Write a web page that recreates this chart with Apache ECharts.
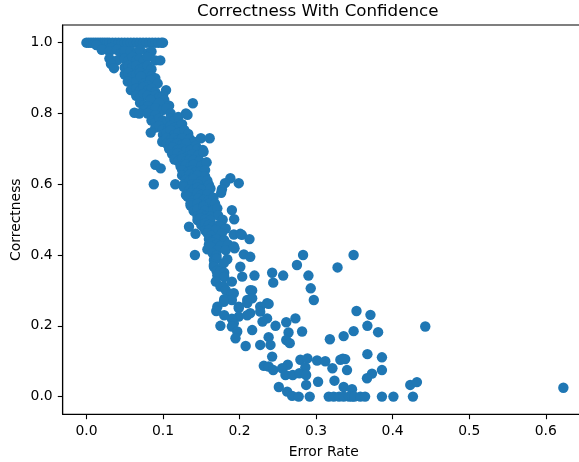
<!DOCTYPE html>
<html>
<head>
<meta charset="utf-8">
<script src="https://cdn.jsdelivr.net/npm/echarts@6/dist/echarts.min.js"></script>
<style>
  html, body { margin: 0; padding: 0; background: #fff; }
  #chart { width: 579px; height: 462px; }
</style>
</head>
<body>
<div id="chart"></div>
<script>
// Each point is [error rate, correctness].
const topRow = [
  [0, 1], [0.003, 1], [0.006, 1], [0.009, 1], [0.012, 1], [0.015, 1], [0.018, 1], [0.021, 1],
  [0.024, 1], [0.027, 1], [0.03, 1], [0.034, 1], [0.038, 1], [0.042, 1], [0.046, 1], [0.05, 1],
  [0.054, 1], [0.058, 1], [0.062, 1], [0.066, 1], [0.07, 1], [0.074, 1], [0.078, 1], [0.082, 1],
  [0.086, 1], [0.09, 1], [0.094, 1], [0.098, 1], [0.1, 1]
];

const upperBand = [
  [0.013, 0.993], [0.032, 0.985], [0.02, 0.98], [0.03, 0.975], [0.04, 0.98], [0.045, 0.97],
  [0.05, 0.975], [0.058, 0.975], [0.065, 0.97], [0.07, 0.98], [0.08, 0.97], [0.085, 0.975],
  [0.03, 0.955], [0.04, 0.95], [0.05, 0.955], [0.055, 0.95], [0.06, 0.96], [0.065, 0.95],
  [0.07, 0.955], [0.075, 0.95], [0.08, 0.96], [0.09, 0.95], [0.0965, 0.95],
  [0.032, 0.94], [0.036, 0.928], [0.05, 0.93], [0.055, 0.935], [0.06, 0.93], [0.065, 0.935],
  [0.07, 0.925], [0.075, 0.93], [0.08, 0.935], [0.085, 0.925],
  [0.05, 0.91], [0.055, 0.915], [0.06, 0.905], [0.065, 0.91], [0.07, 0.915], [0.075, 0.905],
  [0.08, 0.91], [0.085, 0.905], [0.09, 0.9],
  [0.054, 0.89], [0.06, 0.885], [0.065, 0.89], [0.071, 0.904], [0.075, 0.885], [0.084, 0.895],
  [0.08, 0.88], [0.093, 0.885],
  [0.058, 0.866], [0.065, 0.87], [0.07, 0.865], [0.075, 0.875], [0.08, 0.865], [0.085, 0.87],
  [0.09, 0.86], [0.104, 0.866],
  [0.065, 0.85], [0.07, 0.845], [0.075, 0.855], [0.08, 0.85], [0.085, 0.84], [0.09, 0.85],
  [0.095, 0.845], [0.1, 0.85],
  [0.07, 0.83], [0.0756, 0.824], [0.084, 0.838], [0.093, 0.824], [0.1017, 0.838], [0.139, 0.829],
  [0.095, 0.83], [0.08, 0.82], [0.108, 0.822],
  [0.075, 0.81], [0.085, 0.81], [0.09, 0.815], [0.1, 0.81], [0.105, 0.815], [0.0626, 0.802],
  [0.069, 0.8], [0.13, 0.8], [0.08, 0.8], [0.09, 0.795], [0.11, 0.8], [0.132, 0.796],
  [0.085, 0.78], [0.09, 0.775], [0.095, 0.785], [0.1, 0.78], [0.105, 0.775], [0.11, 0.785],
  [0.115, 0.78], [0.12, 0.79],
  [0.09, 0.76], [0.095, 0.765], [0.1, 0.755], [0.106, 0.753], [0.11, 0.765], [0.115, 0.76],
  [0.12, 0.755], [0.127, 0.753], [0.125, 0.77],
  [0.084, 0.746], [0.1, 0.74], [0.105, 0.745], [0.11, 0.753], [0.115, 0.74], [0.12, 0.745],
  [0.128, 0.753], [0.133, 0.742],
  [0.1017, 0.725], [0.099, 0.72], [0.105, 0.73], [0.11, 0.725], [0.115, 0.73], [0.12, 0.725],
  [0.125, 0.73], [0.135, 0.728], [0.14, 0.72], [0.1495, 0.73], [0.161, 0.73]
];

const middleBand = [
  [0.105, 0.715], [0.11, 0.716], [0.115, 0.71], [0.119, 0.716], [0.125, 0.712], [0.13, 0.715],
  [0.143, 0.708],
  [0.108, 0.7], [0.113, 0.705], [0.119, 0.697], [0.125, 0.7], [0.13, 0.695], [0.136, 0.697],
  [0.145, 0.7], [0.152, 0.697],
  [0.112, 0.685], [0.119, 0.688], [0.125, 0.68], [0.132, 0.678], [0.138, 0.685], [0.146, 0.682],
  [0.153, 0.692],
  [0.115, 0.67], [0.12, 0.665], [0.125, 0.672], [0.13, 0.665], [0.135, 0.67], [0.14, 0.668],
  [0.148, 0.665],
  [0.09, 0.655], [0.097, 0.645], [0.123, 0.65], [0.13, 0.655], [0.136, 0.65], [0.14, 0.655],
  [0.15, 0.652], [0.157, 0.662],
  [0.125, 0.64], [0.133, 0.635], [0.138, 0.64], [0.143, 0.635], [0.149, 0.636], [0.155, 0.64],
  [0.125, 0.625], [0.13, 0.62], [0.135, 0.628], [0.14, 0.621], [0.145, 0.625], [0.155, 0.622],
  [0.1295, 0.612], [0.135, 0.61], [0.14, 0.615], [0.149, 0.607], [0.158, 0.61], [0.188, 0.617],
  [0.088, 0.6], [0.116, 0.6], [0.127, 0.598], [0.138, 0.6], [0.145, 0.6], [0.16, 0.598],
  [0.181, 0.603], [0.199, 0.603],
  [0.127, 0.593], [0.135, 0.585], [0.14, 0.584], [0.145, 0.59], [0.15, 0.585], [0.162, 0.588],
  [0.177, 0.586],
  [0.13, 0.57], [0.137, 0.575], [0.145, 0.575], [0.15, 0.57], [0.158, 0.572], [0.176, 0.576],
  [0.132, 0.565], [0.14, 0.555], [0.146, 0.56], [0.153, 0.556], [0.16, 0.555], [0.166, 0.562],
  [0.136, 0.546], [0.136, 0.54], [0.145, 0.545], [0.153, 0.54], [0.16, 0.545], [0.168, 0.545],
  [0.14, 0.525], [0.145, 0.53], [0.153, 0.537], [0.155, 0.525], [0.166, 0.527], [0.171, 0.532],
  [0.19, 0.527],
  [0.145, 0.51], [0.15, 0.515], [0.155, 0.51], [0.162, 0.508], [0.172, 0.512],
  [0.145, 0.499], [0.149, 0.504], [0.155, 0.5], [0.162, 0.499], [0.178, 0.5], [0.193, 0.501],
  [0.15, 0.485], [0.155, 0.49], [0.16, 0.485], [0.165, 0.48], [0.173, 0.485], [0.175, 0.48],
  [0.134, 0.48], [0.155, 0.47], [0.16, 0.471], [0.169, 0.471], [0.182, 0.475],
  [0.1425, 0.46], [0.158, 0.462], [0.163, 0.455], [0.177, 0.462], [0.1925, 0.458], [0.201, 0.46],
  [0.203, 0.457],
  [0.16, 0.445], [0.165, 0.44], [0.17, 0.445], [0.18, 0.442], [0.213, 0.445],
  [0.16, 0.43], [0.165, 0.435], [0.17, 0.43], [0.175, 0.425], [0.185, 0.43],
  [0.158, 0.416], [0.162, 0.424], [0.171, 0.414], [0.182, 0.414], [0.1925, 0.424], [0.1935, 0.419]
];

const lowerBand = [
  [0.1417, 0.4], [0.165, 0.405], [0.17, 0.398], [0.2056, 0.402], [0.283, 0.4], [0.349, 0.4],
  [0.1665, 0.386], [0.17, 0.39], [0.184, 0.388], [0.214, 0.395],
  [0.1665, 0.372], [0.1665, 0.367], [0.175, 0.358], [0.1795, 0.377], [0.201, 0.367],
  [0.275, 0.372], [0.328, 0.365],
  [0.17, 0.355], [0.1743, 0.353], [0.18, 0.35],
  [0.171, 0.342], [0.18, 0.338], [0.2035, 0.339], [0.2195, 0.342], [0.2426, 0.35], [0.257, 0.342],
  [0.29, 0.342],
  [0.169, 0.325], [0.19, 0.325], [0.244, 0.322],
  [0.175, 0.311], [0.1795, 0.311], [0.293, 0.306],
  [0.182, 0.301], [0.19, 0.29], [0.1925, 0.292], [0.214, 0.301], [0.2165, 0.3],
  [0.18, 0.275], [0.19, 0.273], [0.21, 0.273], [0.2165, 0.278], [0.297, 0.273],
  [0.1795, 0.268], [0.21, 0.264], [0.236, 0.264], [0.238, 0.262],
  [0.171, 0.254], [0.199, 0.254], [0.227, 0.254],
  [0.1696, 0.242], [0.214, 0.236], [0.227, 0.24], [0.3528, 0.242],
  [0.18, 0.23], [0.199, 0.25], [0.199, 0.226], [0.21, 0.23], [0.371, 0.231],
  [0.19, 0.22], [0.236, 0.221], [0.273, 0.221],
  [0.1925, 0.207], [0.23, 0.212], [0.261, 0.21],
  [0.175, 0.2], [0.19, 0.198], [0.247, 0.2], [0.367, 0.2], [0.4426, 0.198],
  [0.197, 0.184], [0.2165, 0.188], [0.2817, 0.184], [0.264, 0.181], [0.349, 0.185], [0.381, 0.182],
  [0.1947, 0.165], [0.238, 0.168], [0.336, 0.171],
  [0.261, 0.16], [0.318, 0.162],
  [0.208, 0.143], [0.227, 0.146], [0.2404, 0.146], [0.2656, 0.151],
  [0.367, 0.12],
  [0.2426, 0.113], [0.2795, 0.104], [0.2887, 0.108], [0.386, 0.111], [0.335, 0.107],
  [0.3013, 0.102], [0.312, 0.1], [0.3317, 0.104], [0.338, 0.106],
  [0.2317, 0.087], [0.238, 0.085], [0.263, 0.09], [0.286, 0.083],
  [0.244, 0.075], [0.2556, 0.08], [0.3213, 0.08], [0.3404, 0.075], [0.386, 0.075],
  [0.26, 0.061], [0.2695, 0.061], [0.2782, 0.066], [0.287, 0.061], [0.373, 0.065],
  [0.3026, 0.042], [0.324, 0.045], [0.3665, 0.052],
  [0.287, 0.033], [0.423, 0.033], [0.4317, 0.041],
  [0.2513, 0.027], [0.336, 0.027], [0.3469, 0.021], [0.623, 0.025],
  [0.2622, 0.014],
  [0.2687, 0.002], [0.2773, 0], [0.2917, 0], [0.3165, 0], [0.323, 0], [0.33, 0], [0.336, 0],
  [0.343, 0], [0.347, 0], [0.35, 0], [0.3578, 0], [0.364, 0], [0.386, 0], [0.401, 0], [0.4265, 0]
];

const xTicks = [0, 0.1, 0.2, 0.3, 0.4, 0.5, 0.6];
const yTicks = [0, 0.2, 0.4, 0.6, 0.8, 1.0];

const points = topRow.concat(upperBand, middleBand, lowerBand);

const FONT = 'DejaVu Sans';
const INK = '#000000';

const chart = echarts.init(document.getElementById('chart'), null, { renderer: 'canvas' });

chart.setOption({
  animation: false,
  backgroundColor: '#ffffff',
  title: {
    text: 'Correctness With Confidence',
    left: 197,
    top: 3,
    padding: 0,
    textStyle: { fontFamily: FONT, fontSize: 16.7, fontWeight: 'normal', color: INK }
  },
  grid: {
    left: 62.7,
    top: 25,
    right: -5.8,
    bottom: 47.7,
    containLabel: false,
    outerBoundsMode: 'none',
    show: true,
    borderColor: INK,
    borderWidth: 1.1,
    backgroundColor: 'transparent'
  },
  xAxis: {
    type: 'value',
    min: -0.031,
    max: 0.651,
    name: 'Error Rate',
    nameLocation: 'middle',
    nameGap: 31,
    nameTextStyle: { fontFamily: FONT, fontSize: 13.9, color: INK },
    splitLine: { show: false },
    axisLine: { show: true, onZero: false, lineStyle: { color: INK, width: 1.1 } },
    axisTick: { show: true, length: 4.9, customValues: xTicks, lineStyle: { color: INK, width: 1.1 } },
    axisLabel: {
      customValues: xTicks,
      margin: 10,
      fontFamily: FONT,
      fontSize: 13.9,
      color: INK,
      formatter: v => v.toFixed(1)
    }
  },
  yAxis: {
    type: 'value',
    min: -0.05,
    max: 1.05,
    name: 'Correctness',
    nameLocation: 'middle',
    nameGap: 39.5,
    nameMoveOverlap: false,
    nameRotate: 90,
    nameTextStyle: { fontFamily: FONT, fontSize: 13.9, color: INK },
    splitLine: { show: false },
    axisLine: { show: true, onZero: false, lineStyle: { color: INK, width: 1.1 } },
    axisTick: { show: true, length: 4.9, customValues: yTicks, lineStyle: { color: INK, width: 1.1 } },
    axisLabel: {
      customValues: yTicks,
      margin: 10,
      fontFamily: FONT,
      fontSize: 13.9,
      color: INK,
      formatter: v => v.toFixed(1)
    }
  },
  series: [{
    type: 'scatter',
    data: points,
    symbol: 'circle',
    symbolSize: 10.4,
    itemStyle: { color: '#1f77b4', opacity: 1, borderWidth: 0 },
    emphasis: { disabled: true },
    clip: false
  }]
});
</script>
</body>
</html>
